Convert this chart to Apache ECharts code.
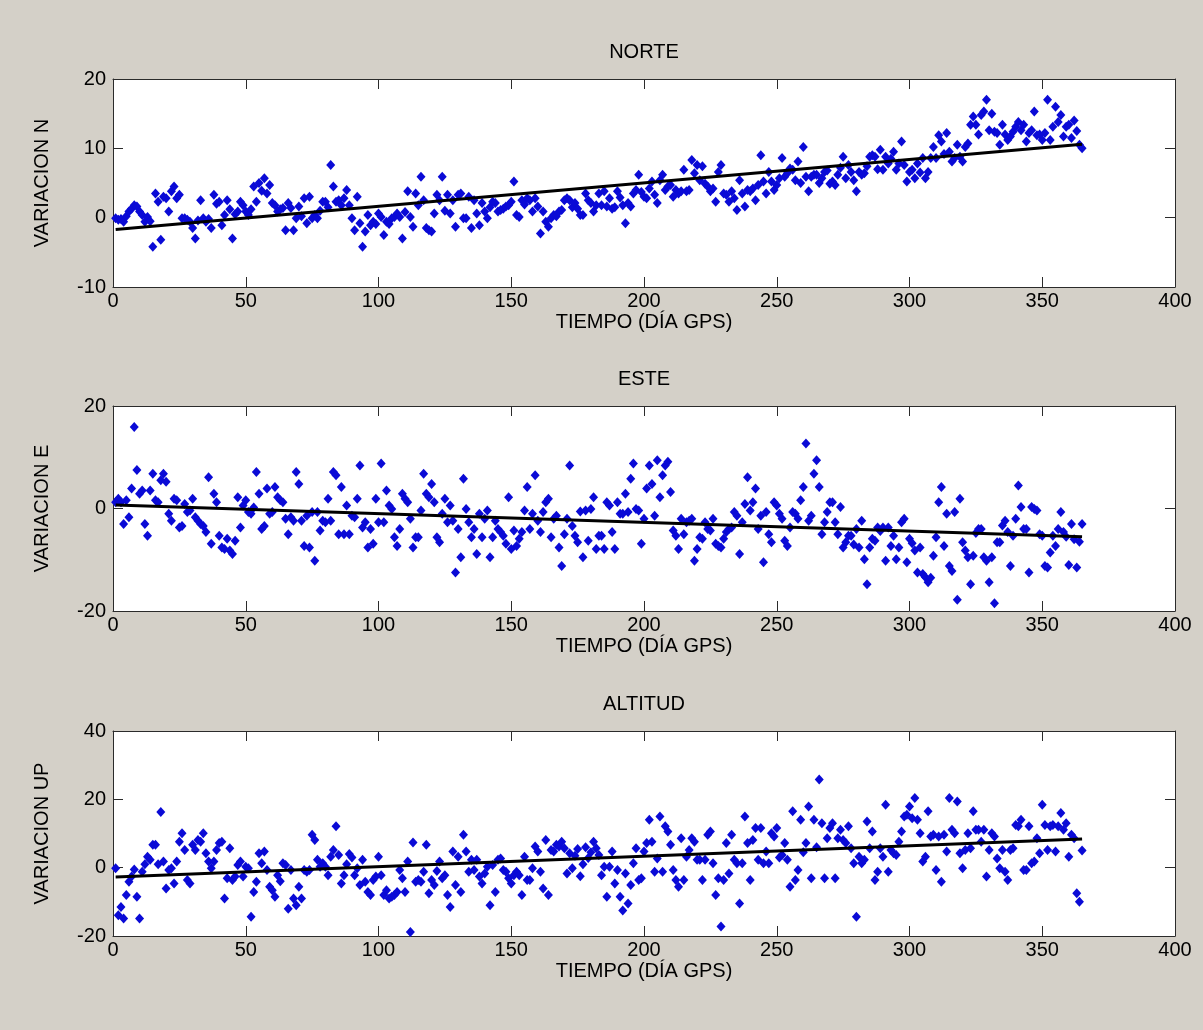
<!DOCTYPE html>
<html lang="es">
<head>
    <meta charset="UTF-8">
    <title>NORTE / ESTE / ALTITUD</title>
    <style type="text/css">
        html, body { margin: 0; padding: 0; background: #d4d0c8; }
        #chart { width: 1203px; height: 1030px; }
    </style>
</head>
<body>
<div id="chart"></div>
<script src="https://cdn.jsdelivr.net/npm/echarts@6/dist/echarts.min.js"></script>
<script type="text/javascript">
    // variacion por dia GPS (dia 1..365)
    var variacionN = [
        -0.1, -0.3, -0.2, -0.6, 0.2, 0.9, 1.3, 1.8, 1.6, 0.9,
        0.4, -0.6, 0.1, -0.5, -4.2, 3.5, 2.3, -3.2, 3.0, 2.8,
        0.9, 3.8, 4.5, 2.8, 3.3, -0.1, -0.1, -0.3, -0.6, -1.5,
        -3.0, -0.4, 2.5, -0.1, -0.6, -0.2, -1.5, 3.3, 2.0, 2.3,
        -1.1, 0.4, 2.5, 1.2, -3.0, 0.5, 0.9, 2.3, 1.8, 0.9,
        0.4, 1.2, 4.5, 2.3, 5.0, 3.9, 5.7, 3.5, 4.7, 2.1,
        1.8, 0.9, 1.2, 1.4, -1.8, 2.1, 1.4, -1.8, -0.1, 1.6,
        0.2, 2.8, -0.8, 3.0, -0.1, 0.4, -0.1, 1.0, 2.3, 2.3,
        1.5, 7.6, 4.5, 2.3, 2.5, 1.8, 2.8, 4.0, 1.8, -0.1,
        -1.8, 3.0, -0.8, -4.2, -2.0, 0.4, -1.1, -0.6, -0.9, 0.6,
        0.1, -2.5, -0.6, -0.9, -0.1, 0.1, 0.6, 0.1, -3.0, 0.8,
        3.8, 0.1, -1.3, 3.5, 1.8, 5.9, 2.5, -1.5, -1.8, -2.0,
        0.6, 3.3, 2.5, 5.9, 1.0, 3.3, 0.6, 2.5, -1.3, 3.3,
        3.5, -0.1, -0.1, 3.0, -1.5, 2.5, 0.6, -1.1, 2.1, 0.9,
        -0.1, 1.5, 2.3, 2.1, 0.9, 1.1, 1.3, 1.6, 1.8, 2.3,
        5.2, 0.4, 0.1, 2.5, 1.9, 2.8, 2.5, 0.9, 2.8, 1.6,
        -2.3, 0.9, -0.6, -1.3, -0.1, 0.4, 0.2, 0.9, 1.1, 2.5,
        2.8, 2.5, 1.5, 2.1, 1.3, 0.4, 0.4, 3.5, 2.5, 2.1,
        0.9, 1.8, 3.5, 1.8, 3.8, 1.6, 2.8, 1.3, 1.5, 3.8,
        2.9, 1.8, -0.8, 2.1, 1.6, 3.5, 4.0, 6.2, 3.7, 3.0,
        2.8, 4.2, 5.2, 3.3, 2.1, 5.4, 6.2, 4.0, 4.5, 4.7,
        3.0, 4.0, 3.5, 3.8, 6.9, 3.8, 4.0, 8.3, 6.4, 7.6,
        5.4, 7.4, 4.9, 4.5, 3.8, 4.2, 2.3, 6.6, 7.6, 3.5,
        3.3, 2.3, 3.8, 2.8, 1.1, 5.4, 3.5, 1.6, 4.0, 3.8,
        4.2, 2.5, 4.7, 9.0, 5.2, 3.5, 6.6, 5.2, 4.0, 4.7,
        5.7, 8.6, 5.9, 6.4, 7.1, 6.9, 5.4, 8.1, 5.0, 10.2,
        5.9, 3.8, 5.9, 6.2, 6.2, 5.0, 5.7, 6.6, 6.8, 4.9,
        5.2, 4.7, 6.2, 7.2, 8.8, 5.7, 7.6, 6.6, 5.4, 3.8,
        6.6, 6.2, 6.4, 7.4, 8.8, 9.0, 8.8, 7.0, 9.8, 6.9,
        8.8, 7.8, 8.5, 9.5, 6.9, 7.8, 11.0, 7.6, 5.2, 6.6,
        6.9, 5.7, 7.8, 6.5, 8.6, 5.7, 6.6, 8.6, 10.2, 8.6,
        11.9, 11.0, 9.2, 12.2, 9.5, 8.1, 8.6, 10.5, 8.8, 8.1,
        10.2, 10.7, 13.4, 14.6, 13.4, 12.0, 14.8, 15.3, 17.0, 12.6,
        15.0, 12.4, 12.2, 10.5, 13.4, 12.0, 11.2, 11.7, 12.4, 13.1,
        13.8, 12.6, 13.4, 11.0, 12.2, 12.6, 15.3, 11.9, 12.0, 11.2,
        12.2, 17.0, 11.2, 13.1, 16.0, 13.8, 14.8, 11.7, 13.1, 13.4,
        11.5, 14.0, 12.5, 10.5, 10.0
    ];
    var variacionE = [
        1.2, 1.9, 1.2, -3.0, 1.6, -1.7, 3.9, 15.9, 7.5, 2.9,
        3.5, -3.0, -5.3, 3.5, 6.8, 1.6, 1.2, 5.5, 6.8, 5.2,
        -1.0, -2.4, 1.9, 1.6, -3.7, -3.4, 0.9, -0.7, -0.4, 1.9,
        -1.7, -2.4, -3.0, -3.4, -4.6, 6.1, -6.9, 2.9, 1.2, -5.3,
        -7.6, -7.9, -5.9, -8.2, -8.9, -6.3, 2.2, -3.7, 0.6, 1.6,
        -0.7, -1.0, 0.2, 7.1, 2.9, -4.0, -3.4, 3.9, -1.0, -0.7,
        4.2, 2.2, 1.6, 1.2, -2.0, -5.0, -1.7, -2.4, 7.1, 4.8,
        -2.4, -7.3, -1.4, -7.6, -0.7, -10.2, -0.7, -4.3, -2.4, -2.7,
        1.9, -2.4, 7.1, 6.5, -5.0, 4.2, -5.0, 0.6, -5.0, -1.4,
        -1.7, 1.9, 8.4, -3.7, -2.7, -7.6, -4.0, -6.9, 1.9, -2.7,
        8.8, -2.7, 3.5, 0.6, -0.1, -5.6, -7.3, -4.0, 2.9, 1.9,
        1.2, -2.0, -7.6, -5.6, -5.6, -0.4, 6.8, 2.9, 2.2, 4.8,
        1.2, -5.6, -6.6, -1.0, 1.9, -2.7, 0.6, -2.4, -12.5, -4.0,
        -9.5, 5.8, -0.1, -2.7, -5.6, -4.0, -8.9, -1.0, -5.6, -2.0,
        -0.4, -9.5, -5.6, -2.4, -4.0, -4.6, -5.3, -6.9, 2.2, -7.9,
        -4.3, -7.3, -5.9, -4.6, -0.4, 4.2, -4.0, -1.0, 6.5, -2.4,
        -4.6, -0.7, 1.2, 1.9, -5.6, -2.0, -1.4, -7.6, -11.2, -5.0,
        -2.0, 8.4, -3.4, -5.3, -6.6, -0.6, -9.5, -0.4, -6.3, -0.1,
        2.2, -7.9, -5.3, -5.3, -7.9, 1.2, 0.6, -4.6, -7.9, 1.2,
        -1.0, -1.0, 2.9, -0.7, 5.8, 8.8, -0.1, -0.4, -6.9, -2.0,
        3.9, 8.4, 4.8, -1.4, 9.4, 2.2, 6.5, 8.4, 9.1, 3.2,
        -4.3, -5.3, -7.9, -2.0, -5.0, -2.7, -2.4, -2.0, -10.2, -7.9,
        -5.6, -5.9, -2.7, -4.0, -4.3, -2.0, -6.9, -7.3, -7.6, -5.9,
        -4.6, -4.0, -3.7, -0.7, -1.4, -8.9, -2.7, 0.9, 6.1, -0.4,
        1.2, 3.9, -4.0, -1.4, -10.5, -0.7, -5.0, -6.6, 1.2, 0.6,
        -1.0, -2.0, -6.3, -7.3, -3.7, -0.7, -1.0, -2.0, 1.6, 4.2,
        12.7, -2.4, -1.4, 6.8, 9.4, 4.2, -5.0, -2.7, -0.7, 1.2,
        1.2, -2.7, -5.0, 0.3, -7.6, -6.6, -5.3, -5.3, -7.0, -4.0,
        -7.6, -2.4, -9.9, -14.8, -7.6, -5.9, -6.3, -3.7, -4.4, -3.7,
        -10.2, -3.7, -7.3, -5.3, -9.9, -7.6, -2.7, -2.0, -10.5, -5.9,
        -6.8, -8.2, -12.5, -7.6, -12.8, -13.4, -14.4, -13.5, -9.2, -5.6,
        1.2, 4.2, -7.3, -1.0, -11.2, -12.2, -0.7, -17.8, 1.9, -6.6,
        -8.2, -9.5, -14.8, -9.2, -4.8, -4.0, -4.0, -9.5, -10.2, -14.4,
        -9.5, -18.5, -6.6, -6.6, -3.3, -2.4, -4.6, -11.2, -5.3, -2.0,
        4.5, 0.3, -4.0, -4.0, -12.5, 0.3, -0.1, -0.4, -5.0, -5.3,
        -11.2, -11.5, -8.6, -5.3, -7.3, -4.0, -0.7, -4.6, -5.5, -11.0,
        -3.0, -6.0, -11.5, -6.5, -3.0
    ];
    var variacionUp = [
        -0.2, -13.9, -11.5, -14.9, -8.0, -4.1, -2.6, -0.5, -8.5, -14.9,
        -1.2, 1.0, 3.2, 2.3, 6.7, 6.7, 1.0, 16.3, 1.8, -6.1,
        -0.7, -0.2, -4.6, 1.8, 7.6, 10.1, 5.2, -3.6, -4.6, 6.7,
        5.2, 8.1, 7.6, 10.1, 4.2, 1.8, -0.2, 1.8, 5.2, 7.2,
        7.6, -9.0, -3.1, 5.7, -3.6, -2.6, 0.8, 1.8, -2.6, 0.3,
        -0.2, -14.4, -7.1, -4.1, 4.2, 1.3, 4.7, -0.7, -5.6, -6.6,
        -8.5, -2.2, -4.0, 1.3, 0.8, -12.0, -0.7, -9.0, -11.0, -5.6,
        -9.0, -0.7, -1.2, -0.7, 9.6, 8.1, 2.3, 0.3, 1.3, 0.3,
        -2.2, 3.2, 5.2, 12.1, 3.7, -4.6, -2.2, 1.0, 4.0, 3.0,
        -2.2, -0.2, -5.1, 2.3, -4.1, -7.1, -8.0, -3.6, -2.6, 3.2,
        -2.2, -8.0, -6.6, -9.0, -8.5, -8.0, -7.1, -0.7, -3.1, -7.1,
        1.8, -18.8, 7.4, -4.1, -3.6, -4.1, -1.2, 6.7, -7.5, -3.6,
        -5.1, -1.0, 1.8, -3.1, -2.2, -8.0, -11.5, 4.7, -5.1, 3.2,
        -7.1, 9.6, 4.7, -1.2, 2.3, -0.7, 2.3, -2.6, -4.6, -1.7,
        0.3, -11.0, 0.8, -7.1, 2.3, 2.7, -0.7, -1.2, -3.1, -4.6,
        -2.2, -1.2, -2.2, -8.0, 3.2, -3.6, -3.6, -0.2, 6.2, 4.7,
        -1.2, -6.1, 8.1, -8.0, 5.2, 4.7, 6.7, 6.2, 7.6, 5.7,
        -1.7, 4.2, -0.2, 3.5, 5.5, -2.5, 1.0, 6.0, 2.8, 4.5,
        7.6, 5.7, 3.7, -2.2, 0.3, -8.5, 0.3, 4.7, -4.6, -0.7,
        -8.5, -12.5, -1.7, -10.5, -5.1, 1.3, 5.7, -3.6, -3.1, 4.7,
        7.2, 14.0, 7.6, -1.2, 2.7, 15.0, -1.2, 12.1, 10.6, 6.7,
        -0.7, -3.6, -5.6, 8.6, -3.6, 3.2, 5.2, 8.6, 7.6, 2.3,
        2.3, -3.6, 2.3, 9.6, 10.6, 1.3, -8.0, -3.1, -17.2, -3.6,
        7.2, -1.7, 9.6, 2.3, 1.3, -10.5, 1.3, 15.0, 7.2, -3.6,
        8.1, 11.6, 2.3, 11.6, 1.3, 4.7, 1.3, 10.1, 9.1, 11.6,
        3.0, 3.7, 7.2, 2.3, -5.6, 16.5, -3.6, -0.7, 14.0, 4.5,
        7.2, 17.9, -3.1, 14.0, 6.0, 25.8, 13.0, -3.1, 8.6, 11.6,
        13.0, -3.1, 8.6, 11.1, 8.1, 7.2, 12.1, 5.7, 1.3, -14.4,
        3.2, 1.3, 2.3, 13.5, 5.7, 10.6, -3.6, -1.2, 5.7, 3.2,
        18.4, -1.2, 5.2, 4.2, 3.7, 7.6, 10.6, 15.0, 15.5, 17.9,
        14.5, 20.4, 14.0, 10.1, 1.8, 3.2, 16.5, 9.1, 9.6, -0.7,
        9.1, -4.1, 9.6, 4.7, 20.4, 11.1, 10.1, 19.4, 4.2, -0.2,
        5.2, 10.1, 5.7, 16.5, 11.1, 11.1, 7.6, 11.1, -2.6, 5.2,
        10.1, 9.1, 2.7, -0.2, 5.2, -1.2, -3.6, 5.2, 5.7, 12.5,
        12.1, 14.0, -0.7, -0.7, 12.1, 1.3, 1.8, 8.6, 4.2, 18.4,
        12.5, 5.2, 12.1, 12.5, 4.7, 12.1, 16.0, 11.1, 13.0, 3.2,
        9.6, 8.6, -7.5, -10.0, 5.0
    ];

    // recta de tendencia: [dia, valor] en los extremos
    var tendenciaN = [[1, -1.7], [365, 10.6]];
    var tendenciaE = [[1, 0.7], [365, -5.5]];
    var tendenciaUp = [[1, -2.7], [365, 8.4]];

    var titulos = ['NORTE', 'ESTE', 'ALTITUD'];
    var nombresY = ['VARIACION N', 'VARIACION E', 'VARIACION UP'];
    var nombreX = 'TIEMPO (DÍA GPS)';
    var rangosY = [[-10, 20, 10], [-20, 20, 20], [-20, 40, 20]];

    var fuente = '"Liberation Sans", Arial, sans-serif';
    var colorMarco = '#2b2b2b';

    var chart = echarts.init(document.getElementById('chart'), null, {renderer: 'canvas'});

    var cajas = [
        {top: 79, height: 208},
        {top: 406, height: 205},
        {top: 731, height: 205}
    ];

    var grids = [], xAxes = [], yAxes = [], series = [];
    var datos = [variacionN, variacionE, variacionUp];
    var tendencias = [tendenciaN, tendenciaE, tendenciaUp];

    for (var i = 0; i < 3; i++) {
        grids.push({
            left: 113, right: 28, top: cajas[i].top, height: cajas[i].height,
            show: true, backgroundColor: '#ffffff', borderWidth: 0
        });
        // eje x inferior
        xAxes.push({
            type: 'value', gridIndex: i, position: 'bottom',
            min: 0, max: 400, interval: 50,
            name: nombreX, nameLocation: 'middle', nameGap: 25,
            nameTextStyle: {fontFamily: fuente, fontSize: 20, color: '#000'},
            axisLine: {show: true, onZero: false, lineStyle: {color: colorMarco, width: 1}},
            axisTick: {show: true, inside: true, length: 10, lineStyle: {color: colorMarco}},
            axisLabel: {fontFamily: fuente, fontSize: 20, color: '#000', margin: 4},
            splitLine: {show: false}
        });
        // eje x superior (marco + titulo)
        xAxes.push({
            type: 'value', gridIndex: i, position: 'top',
            min: 0, max: 400, interval: 50,
            name: titulos[i], nameLocation: 'middle', nameGap: 17,
            nameTextStyle: {fontFamily: fuente, fontSize: 20, color: '#000'},
            axisLine: {show: true, onZero: false, lineStyle: {color: colorMarco, width: 1}},
            axisTick: {show: true, inside: true, length: 10, lineStyle: {color: colorMarco}},
            axisLabel: {show: false},
            splitLine: {show: false}
        });
        yAxes.push({
            type: 'value', gridIndex: i, position: 'left',
            min: rangosY[i][0], max: rangosY[i][1], interval: rangosY[i][2],
            name: nombresY[i], nameLocation: 'middle', nameGap: 61, nameRotate: 90,
            nameTextStyle: {fontFamily: fuente, fontSize: 20, color: '#000'},
            axisLine: {show: true, onZero: false, lineStyle: {color: colorMarco, width: 1}},
            axisTick: {show: true, inside: true, length: 10, lineStyle: {color: colorMarco}},
            axisLabel: {fontFamily: fuente, fontSize: 20, color: '#000', margin: 7},
            splitLine: {show: false}
        });
        yAxes.push({
            type: 'value', gridIndex: i, position: 'right',
            min: rangosY[i][0], max: rangosY[i][1], interval: rangosY[i][2],
            axisLine: {show: true, onZero: false, lineStyle: {color: colorMarco, width: 1}},
            axisTick: {show: true, inside: true, length: 10, lineStyle: {color: colorMarco}},
            axisLabel: {show: false},
            splitLine: {show: false}
        });

        var puntos = datos[i].map(function (v, k) { return [k + 1, v]; });
        series.push({
            type: 'scatter', xAxisIndex: 2 * i, yAxisIndex: 2 * i,
            data: puntos, symbol: 'diamond', symbolSize: [9, 10],
            itemStyle: {color: '#0a0ad6', opacity: 1},
            z: 2
        });
        series.push({
            type: 'line', xAxisIndex: 2 * i, yAxisIndex: 2 * i,
            data: tendencias[i], symbol: 'none',
            lineStyle: {color: '#000000', width: 3},
            z: 3
        });
    }

    var option = {
        backgroundColor: '#d4d0c8',
        animation: false,
        grid: grids,
        xAxis: xAxes,
        yAxis: yAxes,
        series: series
    };
    chart.setOption(option);
</script>
</body>
</html>
